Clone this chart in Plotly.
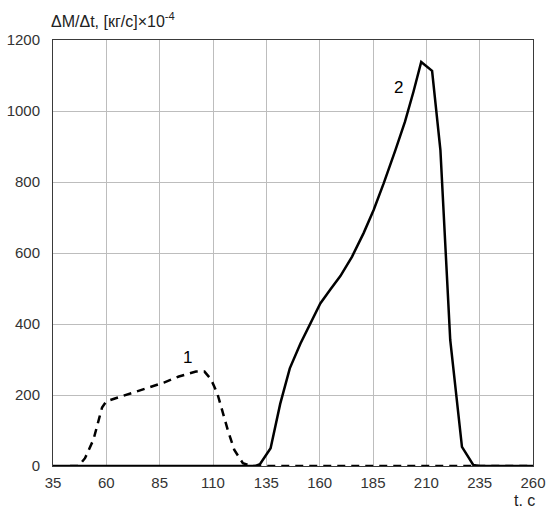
import plotly.graph_objects as go

# Curve 1 (dashed): mass flow rate, first stage
t1 = [43, 47, 50, 54, 58, 60, 64, 73, 87, 94, 102, 106, 109, 112, 114, 117, 120, 124, 128, 260]
v1 = [0, 0, 22, 75, 165, 182, 190, 207, 235, 252, 266, 266, 245, 205, 162, 100, 45, 8, 0, 0]

# Curve 2 (solid): mass flow rate, second stage
t2 = [35, 130, 132, 137, 141.5, 146, 151, 155.6, 160.3, 165, 169.7, 175.2, 180.6, 185.3, 190,
      195.5, 200, 204, 207.6, 212.7, 216.6, 221.2, 226.7, 232, 235, 260]
v2 = [0, 0, 5, 50, 175, 275, 345, 402, 458, 497, 535, 590, 656, 721, 796,
      890, 970, 1055, 1138, 1113, 890, 355, 54, 3, 0, 0]

x_ticks = [35, 60, 85, 110, 135, 160, 185, 210, 235, 260]
y_ticks = [0, 200, 400, 600, 800, 1000, 1200]

curve_labels = [("1", 98, 305), ("2", 197, 1065)]

font_family = "Liberation Sans, Arial, sans-serif"

fig = go.Figure()
fig.add_trace(go.Scatter(x=t1, y=v1, mode="lines",
                         line=dict(color="black", width=2.5, dash="8px,6px"),
                         showlegend=False))
fig.add_trace(go.Scatter(x=t2, y=v2, mode="lines",
                         line=dict(color="black", width=2.5),
                         showlegend=False))

for text, x, y in curve_labels:
    fig.add_annotation(x=x, y=y, text=text, showarrow=False,
                       font=dict(size=17, color="black", family=font_family))

fig.add_annotation(xref="paper", yref="paper", x=-0.008, y=1.0, yshift=8,
                   xanchor="left", yanchor="bottom", showarrow=False,
                   text="ΔM/Δt, [кг/с]×10<sup>-4</sup>",
                   font=dict(size=16, color="#222", family=font_family))
fig.add_annotation(xref="paper", yref="paper", x=1.0, y=0, yshift=-24, xshift=4,
                   xanchor="right", yanchor="top", showarrow=False,
                   text="t. c",
                   font=dict(size=16, color="#222", family=font_family))

axis_common = dict(showgrid=True, gridcolor="#bdbdbd", gridwidth=1,
                   showline=True, linecolor="#3a3a3a", linewidth=1, mirror=True,
                   ticks="", zeroline=False, automargin=False,
                   tickfont=dict(size=15, color="#333", family=font_family))

fig.update_xaxes(range=[35, 260], tickvals=x_ticks, ticktext=[str(v) for v in x_ticks],
                 ticklabelstandoff=3, **axis_common)
fig.update_yaxes(range=[0, 1200], tickvals=y_ticks, ticktext=[str(v) for v in y_ticks],
                 ticklabelstandoff=9, **axis_common)

fig.update_layout(width=547, height=510,
                  margin=dict(l=53, r=14, t=40, b=44),
                  plot_bgcolor="white", paper_bgcolor="white",
                  font=dict(family=font_family))

fig.write_html("out.html")
